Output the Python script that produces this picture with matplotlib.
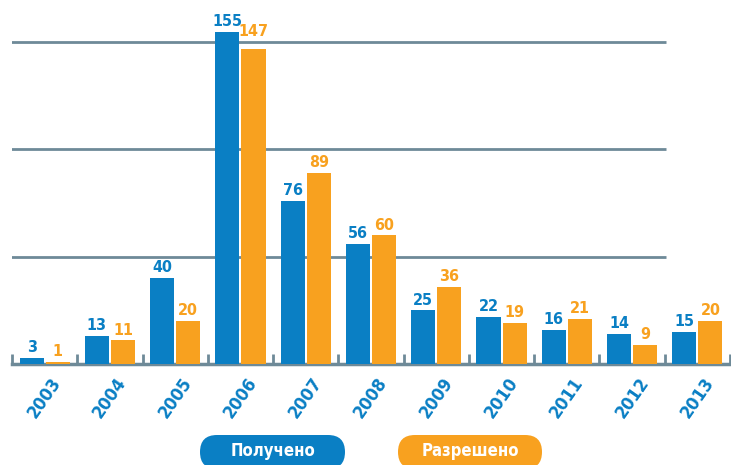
import numpy as np
import matplotlib
matplotlib.use('Agg')
import matplotlib.pyplot as plt
from matplotlib.patches import FancyBboxPatch

years = ['2003', '2004', '2005', '2006', '2007', '2008', '2009', '2010', '2011', '2012', '2013']
received = [3, 13, 40, 155, 76, 56, 25, 22, 16, 14, 15]
resolved = [1, 11, 20, 147, 89, 60, 36, 19, 21, 9, 20]
legend_labels = ['Получено', 'Разрешено']

BLUE = '#0a7fc4'
ORANGE = '#f8a11f'
GRID = '#6e8a98'
TXT = dict(family='DejaVu Sans', fontstretch='condensed', fontweight='bold')

fig = plt.figure(figsize=(7.31, 4.65), dpi=100)
ax = fig.add_axes([12 / 731, 101 / 465, 718 / 731, 343.2 / 465])

x = np.arange(len(years))
w = 0.37
b1 = ax.bar(x - 0.2, received, width=w, color=BLUE, zorder=3)
b2 = ax.bar(x + 0.2, resolved, width=w, color=ORANGE, zorder=3)

# grid lines stop short of the last category
ax.hlines([50, 100, 150], -0.52, 9.52, color=GRID, linewidth=2, zorder=1)

ax.set_xlim(-0.5, len(years) - 0.5)
ax.set_ylim(0, 160)
ax.set_yticks([])
for s in ['top', 'right', 'left']:
    ax.spines[s].set_visible(False)
ax.spines['bottom'].set_color(GRID)
ax.spines['bottom'].set_linewidth(2.5)

ax.set_xticks(x)
ax.set_xticklabels(years, rotation=55, ha='center', fontsize=13, color=BLUE, **TXT)
ax.set_xticks(np.arange(-0.5, len(years)), minor=True)
ax.tick_params(axis='x', which='major', length=0, pad=7)
ax.tick_params(axis='x', which='minor', direction='in', length=7,
               width=2, color=GRID)

offsets = {3: 5}
for bar, v in zip(b1, received):
    ax.annotate(str(v), (bar.get_x() + bar.get_width() / 2, v),
                xytext=(0, 2), textcoords='offset points', ha='center', va='bottom',
                fontsize=11.5, color=BLUE, **TXT)
for i, (bar, v) in enumerate(zip(b2, resolved)):
    ax.annotate(str(v), (bar.get_x() + bar.get_width() / 2, v),
                xytext=(0, 2 + offsets.get(i, 0)), textcoords='offset points',
                ha='center', va='bottom', fontsize=11.5, color=ORANGE, **TXT)

# pill-shaped legend at the bottom, drawn in pixel units
lax = fig.add_axes([0, 0, 1, 1], zorder=-1)
lax.set_xlim(0, 731)
lax.set_ylim(465, 0)
lax.axis('off')
h = 34
for (x0, x1), lab, col in zip([(200, 345), (398, 542)], legend_labels, [BLUE, ORANGE]):
    pill = FancyBboxPatch((x0, 435), x1 - x0, h,
                          boxstyle=f'round,pad=0,rounding_size={h / 2}',
                          facecolor=col, edgecolor='none')
    lax.add_patch(pill)
    lax.text((x0 + x1) / 2, 451, lab, ha='center', va='center',
             fontsize=12, color='white', **TXT)

fig.savefig('out.png', dpi=100)
